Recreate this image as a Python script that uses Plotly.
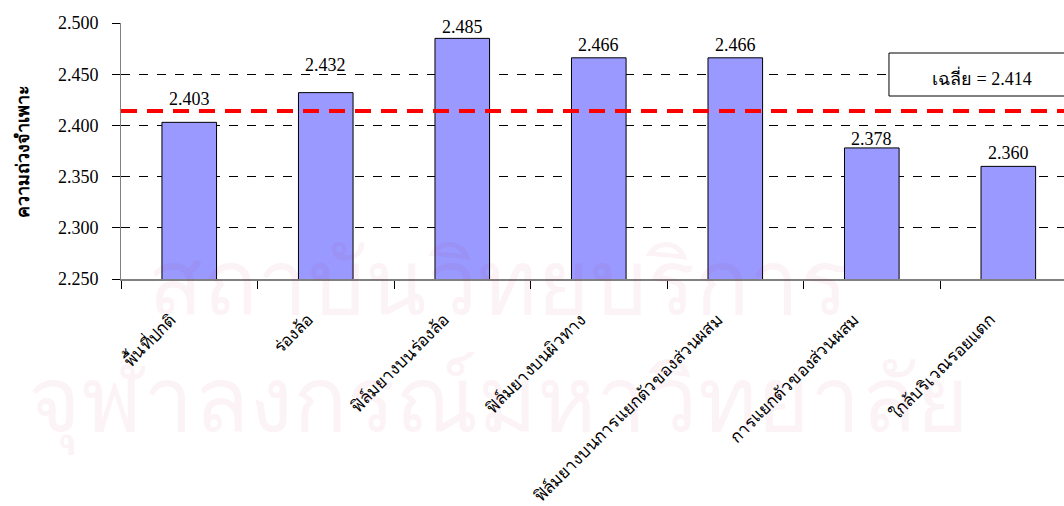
import plotly.graph_objects as go

categories = [
    "พื้นที่ปกติ",
    "ร่องล้อ",
    "ฟิล์มยางบนร่องล้อ",
    "ฟิล์มยางบนผิวทาง",
    "ฟิล์มยางบนการแยกตัวของส่วนผสม",
    "การแยกตัวของส่วนผสม",
    "ใกล้บริเวณรอยแตก",
]
specific_gravity = [2.403, 2.432, 2.485, 2.466, 2.466, 2.378, 2.360]
average_value = 2.414
y_ticks = [2.250, 2.300, 2.350, 2.400, 2.450, 2.500]

# vertical gap (px) between each bar top and its value label
label_shift = [23, 28, 11, 13, 13, 9, 13]

SERIF = "Liberation Serif"

fig = go.Figure()

fig.add_trace(go.Bar(
    x=categories,
    y=specific_gravity,
    width=0.4,
    marker=dict(color="#9999FF", line=dict(color="#000000", width=1)),
    hoverinfo="skip",
))

# value labels above the bars
for cat, val, dy in zip(categories, specific_gravity, label_shift):
    fig.add_annotation(
        x=cat, y=val, yshift=dy, xanchor="center", yanchor="middle",
        text=f"{val:.3f}", showarrow=False,
        font=dict(family=SERIF, size=18, color="#000000"),
    )

# average line
fig.add_shape(
    type="line", xref="paper", yref="y",
    x0=0, x1=1, y0=average_value, y1=average_value,
    line=dict(color="#FF0000", width=4, dash="16px,10px"),
    layer="above",
)

# average label box
fig.add_shape(
    type="rect", xref="paper", yref="y",
    x0=0.8144, x1=1.05, y0=2.4287, y1=2.4707,
    line=dict(color="#000000", width=1), fillcolor="#FFFFFF",
    layer="above",
)
fig.add_annotation(
    xref="paper", yref="y", x=0.913, y=2.4468,
    xanchor="center", yanchor="middle",
    text=f"เฉลี่ย = {average_value:.3f}", showarrow=False,
    font=dict(family=SERIF, size=18, color="#000000"),
)

# y-axis title
fig.add_annotation(
    xref="paper", yref="paper", x=-0.104, y=0.50,
    xanchor="center", yanchor="middle",
    text="<b>ความถ่วงจำเพาะ</b>", textangle=-90, showarrow=False,
    font=dict(family=SERIF, size=18, color="#000000"),
)

# faint watermark
fig.add_annotation(
    xref="paper", yref="paper", x=0.40, y=-0.016,
    xanchor="center", yanchor="middle",
    text="สถาบันวิทยบริการ", showarrow=False,
    font=dict(family=SERIF, size=90, color="rgba(190,20,70,0.05)"),
)
fig.add_annotation(
    xref="paper", yref="paper", x=0.40, y=-0.484,
    xanchor="center", yanchor="middle",
    text="จุฬาลงกรณ์มหาวิทยาลัย", showarrow=False,
    font=dict(family=SERIF, size=90, color="rgba(190,20,70,0.05)"),
)

fig.update_layout(
    width=1064, height=506,
    margin=dict(l=121, r=0, t=23, b=227, autoexpand=False),
    plot_bgcolor="#FFFFFF", paper_bgcolor="#FFFFFF",
    showlegend=False,
    bargap=0.6,
)
fig.update_xaxes(
    range=[-0.5, 6.408], automargin=False,
    showline=True, linecolor="#808080", linewidth=2,
    ticks="outside", ticklen=8, tickcolor="#000000", tickson="boundaries",
    tickangle=-45, ticklabelstandoff=22, ticklabelshift=-18,
    tickfont=dict(family=SERIF, size=17, color="#000000"),
    showgrid=False,
)
fig.update_yaxes(
    range=[2.25, 2.5], automargin=False,
    tickvals=y_ticks, ticktext=[f"{t:.3f}" for t in y_ticks],
    showline=True, linecolor="#808080", linewidth=1,
    ticks="outside", ticklen=8, tickcolor="#000000", ticklabelstandoff=10,
    tickfont=dict(family=SERIF, size=18, color="#000000"),
    showgrid=True, gridcolor="#000000", gridwidth=1, griddash="dash",
    zeroline=False,
)

fig.write_html("out.html")
